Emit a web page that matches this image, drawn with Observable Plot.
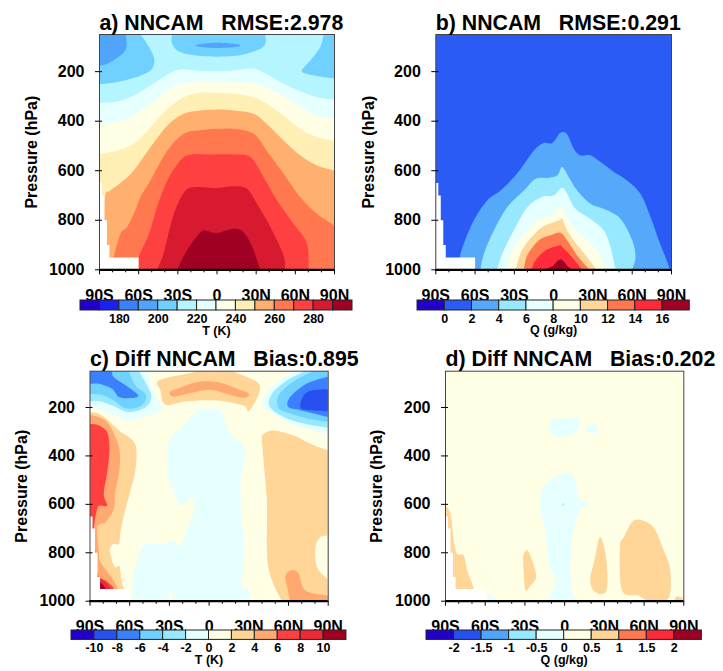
<!DOCTYPE html>
<html><head><meta charset="utf-8">
<script src="https://cdn.jsdelivr.net/npm/d3@7"></script>
<script src="https://cdn.jsdelivr.net/npm/@observablehq/plot@0.6"></script>
<style>
html,body{margin:0;padding:0;background:#fff}
#page{position:relative;width:723px;height:671px;overflow:hidden}
#page svg{position:absolute;overflow:visible;background:transparent}
#page svg text{white-space:pre}
</style></head><body><div id="page"></div>
<script>
// ---------- labels ----------
const latTicks=[-90,-60,-30,0,30,60,90];
const latLabels=["90S","60S","30S","0","30N","60N","90N"];
const latMinor=[-80,-70,-50,-40,-20,-10,10,20,40,50,70,80];
const pressureTicks=[200,400,600,800,1000];
// ---------- colour levels ----------
const tLevels=[170,180,190,200,210,220,230,240,250,260,270,280,290];
const tColors=["#2200cc","#1a20f0","#3a80ff","#50a5fa","#70d0ff","#b4f5ff","#e6ffff","#ffffe6","#ffefb4","#ffb06e","#ff7850","#ff4040","#d71a30","#a00023"];
const qLevels=[0,2,4,6,8,10,12,14,16];
const qColors=["#2200cc","#2a5cf5","#55a8fa","#98e8ff","#e6ffff","#ffffe6","#ffd598","#ff7850","#ff2a3a","#a00023"];
const dtLevels=[-10,-8,-6,-4,-2,0,2,4,6,8,10];
const dtColors=["#2200cc","#2850f0","#3a80ff","#70d0ff","#98e8ff","#e6ffff","#ffffe6","#ffd598","#ffa870","#ff4040","#f02838","#a00023"];
const dqLevels=[-2,-1.5,-1,-0.5,0,0.5,1,1.5,2];
const dqColors=["#2200cc","#2850f0","#50a5fa","#98e8ff","#e6ffff","#ffffe6","#ffd598","#ff7850","#ff2a3a","#a00023"];
// ---------- shared domain outlines [lat, hPa] ----------
const fullDomain=[[-90,50],[90,50],[90,1000],[-90,1000]];
const noData=[[-90,650],[-88.1,650],[-88.1,700],[-86.2,700],[-86.2,800],[-84.3,800],[-84.3,900],[-82.4,900],[-82.4,950],[-60,950],[-60,1000],[-90,1000]];
// ---------- a) temperature contours [lat, hPa] ----------
const t220=[[-90,326],[-76.5,320],[-63.7,296],[-51,256],[-38,211],[-28,191],[-12.7,198],[0,198],[12.7,195],[28,188],[38,209],[51,249],[63.7,279],[76.5,303],[90,312]];
const t230=[[-90,413],[-76.5,404],[-63.7,377],[-51,330],[-38,276],[-28,249],[-12.7,242],[0,242],[12.7,244],[28,246],[38,265],[51,296],[63.7,343],[76.5,377],[90,390]];
const t240=[[-90,534],[-76.5,518],[-63.7,491],[-51,424],[-38,350],[-25.5,303],[-12.7,285],[0,285],[12.7,289],[28,303],[38,330],[51,377],[63.7,431],[76.5,464],[90,480]];
const t250=[[-86.2,1000],[-86.2,720],[-81.6,680],[-74,650],[-63.7,599],[-51,505],[-38,417],[-25.5,370],[-12.7,357],[0,353],[12.7,357],[28,370],[38,410],[51,478],[63.7,538],[76.5,579],[90,599]];
const t260=[[-79,1000],[-79,949],[-74,855],[-69,828],[-63.7,774],[-58.6,706],[-51,639],[-38,518],[-25.5,451],[-12.7,437],[0,431],[12.7,431],[28,451],[38,518],[51,612],[63.7,706],[76.5,774],[90,821]];
const t270=[[-60,1000],[-60,949],[-52,854],[-46,747],[-38,639],[-28,558],[-20.4,535],[-7.6,534],[12.7,534],[25.5,545],[35.7,626],[46,720],[58.6,814],[69,895],[70,1000]];
const t280=[[-46,1000],[-41,935],[-33,774],[-24,680],[-15,666],[0,670],[12.7,663],[23,673],[30.6,733],[41,828],[51,942],[52,1000]];
const t290=[[-30.6,1000],[-23,922],[-12.7,848],[-7.6,844],[0,851],[12.7,834],[20.4,848],[27,908],[33,1000]];
const t210Left=[[-90,50],[-58.6,50],[-52,101],[-48,152],[-51,195],[-63.7,225],[-76.5,242],[-90,252]];
const t210Mid=[[-34.4,50],[-34.4,87],[-28,121],[-12.7,137],[12.7,137],[30.6,114],[37,87],[37,50]];
const t210Right=[[81.6,50],[79,101],[71.4,155],[65,198],[74,215],[90,229],[90,50]];
const t200Left=[[-70,50],[-69.4,101],[-74,135],[-84,168],[-90,175],[-90,50]];
const t200Mid=[[-16.6,94],[-10,86],[0,83],[12.7,87],[18,94],[12.7,101],[0,104],[-10,101]];
// ---------- b) humidity contours ----------
const q2=[[-71.7,1000],[-71.7,951],[-68.6,895],[-61,801],[-50.8,720],[-40.6,680],[-28,612],[-15,518],[-7.5,488],[-1,488],[5,448],[10,451],[15.4,511],[20.5,538],[28,538],[35.8,565],[46,605],[56,639],[66.3,693],[74,787],[80.3,881],[85.4,949],[89,1000]];
const q4=[[-56,1000],[-53.3,935],[-45.7,841],[-35.5,747],[-22.8,680],[-13.9,633],[-5,629],[2.7,619],[6.5,585],[11.6,626],[18,680],[28,733],[38.3,754],[51,794],[60,881],[62.5,949],[60,1000]];
const q6=[[-43,1000],[-39.3,935],[-30.4,840],[-20,747],[-8.8,706],[0,700],[6.5,669],[10.3,693],[16.7,754],[28,794],[38.3,841],[43.4,908],[47.2,1000]];
const q8=[[-35.5,1000],[-31.7,922],[-22.8,855],[-12.6,801],[0,774],[5.2,740],[9,774],[15.4,834],[25.6,881],[34.5,935],[39.6,1000]];
const q10=[[-29,1000],[-25.3,935],[-19,881],[-8.8,828],[4,801],[6.5,794],[10.3,841],[18,901],[25.6,949],[32.7,1000]];
const q12=[[-22.8,1000],[-20.2,942],[-11.3,881],[-2.4,861],[5.2,850],[10.3,881],[18,942],[27.4,1000]];
const q14=[[-17,1000],[-13.9,962],[-6.2,922],[4,902],[6.5,908],[12.9,942],[21.8,1000]];
const q16=[[-7.5,1000],[-1,986],[2.7,965],[6.5,960],[10.3,983],[14,1000]];
// ---------- c) temperature difference contours ----------
const dtM2Left=[[-90,50],[-45.6,50],[-44.3,109],[-36,192],[-36.8,212],[-45.6,233],[-60.7,254],[-70.7,233],[-80.8,212],[-90,203]];
const dtM4Left=[[-90,50],[-53,50],[-46.8,109],[-43.6,157],[-48,199],[-60.7,219],[-72,194],[-82,175],[-90,175]];
const dtM6Left=[[-90,50],[-60.7,50],[-55.6,109],[-47.6,150],[-51.9,195],[-63.2,203],[-72,171],[-80.8,148],[-90,144]];
const dtM8Left=[[-90,50],[-73.3,50],[-72,75],[-62,112],[-53.6,150],[-59.4,161],[-68.2,157],[-73.3,123],[-83.3,102],[-90,102]];
const dtM2Right=[[90,50],[66.5,50],[55,80],[43.8,135],[40,190],[48.8,225],[64,273],[90,309]];
const dtM4Right=[[90,50],[72.8,50],[59,87],[47.6,142],[45.8,197],[56.4,239],[71.5,266],[90,284]];
const dtM6Right=[[90,50],[79,50],[64,91],[52.6,149],[52.6,204],[61.4,225],[74,245],[90,259]];
const dtM8Right=[[90,73],[74,101],[61.4,156],[59.7,197],[69,211],[90,239]];
const dtM10Right=[[90,124],[79,128],[71.5,149],[69,201],[76.5,211],[90,215]];
const dtP2Top=[[-38,88.5],[-16.6,61],[-9,50],[17.4,50],[36.3,95],[37.5,144],[30,215],[26,192],[6,171],[-16.6,174],[-33,188],[-36.8,130]];
const dtP4Top=[[-29.7,137],[-24,123],[-9,95],[6,95],[21,123],[30,144],[26,160],[13.6,144],[1,127],[-11.6,137],[-26.7,155]];
const dtM2Mid=[[4.8,206],[9.8,226],[16,309],[25,350],[27.4,391],[23.7,515],[25,694],[26.7,749],[25,935],[30,949],[30,1000],[-26.7,1000],[-29,942],[-31,1000],[-58,1000],[-57,887],[-50.6,777],[-44.3,763],[-34,763],[-26.7,749],[-21.7,770],[-12.8,653],[-11,598],[-14,573],[-21.7,605],[-26.7,543],[-30.5,488],[-31.7,405],[-29,323],[-19,274],[-9,212],[-1.5,206]];
const dtP2Right=[[41.3,309],[40,336],[42.5,502],[43.8,612],[43.8,818],[47.6,915],[55,1000],[90,1000],[90,378],[76.5,350],[64,316],[48.8,295]];
const dtHoleRight=[[90,729],[84,736],[80.3,777],[81.6,860],[90,912]];
const dtP4Right=[[57.7,894],[62.7,871],[67.7,887],[72.8,956],[90,977],[90,1000],[61.4,1000],[59,942]];
const dtP2Left=[[-90,219],[-81,233],[-68,295],[-56,350],[-55.6,453],[-59.4,543],[-64.4,646],[-67,715],[-68,763],[-72,763],[-75,784],[-73.8,825],[-71,860],[-68,853],[-67,880],[-66,922],[-64.4,949],[-64.4,1000],[-90,1000]];
const dtP4Left=[[-90,230],[-78.3,254],[-70.7,323],[-67.5,385],[-68,467],[-71,550],[-72,619],[-78.3,674],[-82,681],[-84.6,701],[-83.3,798],[-82,839],[-75.8,887],[-69.5,942],[-69.5,1000],[-90,1000]];
const dtP6Left=[[-90,267],[-83.3,274],[-77,302],[-75.3,371],[-77,467],[-79.6,557],[-77,605],[-82,605],[-84.6,619],[-87,701],[-85.9,798],[-83.8,894],[-78.3,915],[-72,949],[-72,1000],[-90,1000]];
const dtP8Left=[[-84,905],[-80,915],[-75,949],[-82,975]];
const dtP10Left=[[-82.6,921],[-78.3,949],[-82,956]];
// ---------- d) humidity difference contours ----------
const dqM0Top=[[-10.7,251],[-3.1,247],[10.7,243],[10.7,281],[6.9,302],[-1.9,323],[-8.2,316],[-10.7,295]];
const dqM0Small=[[15,295],[19.5,263],[23.3,268],[25,302],[22,306],[18.3,302]];
const dqM0Main=[[-0.6,474],[5.7,477],[9.4,529],[10.7,577],[17,591],[17,605],[12,619],[6.4,708],[4.4,887],[6.9,977],[14.5,1000],[-13.2,1000],[-9.4,956],[-6.9,901],[-12,846],[-14.5,708],[-18.3,612],[-17,543],[-9.4,495]];
const dqM05Dot=[[-1.8,600],[-1.1,594],[-0.3,600],[-1.1,606]];
const dqM0Low=[[-59,1000],[-57.3,972],[-53.5,977],[-51,1000]];
const dqP1=[[-90,605],[-86.2,639],[-83.7,749],[-81.2,804],[-76.2,811],[-73.6,873],[-68.6,949],[-68.6,1000],[-90,1000]];
const dqP2=[[-31.3,818],[-29.6,794],[-27,798],[-21.5,894],[-25.8,935],[-29.6,956],[-30.8,887]];
const dqP3=[[25.8,743],[28.3,747],[31.6,832],[32,949],[27,970],[20.8,949],[19.5,901],[22.5,832]];
const dqP4=[[44.7,736],[52.2,667],[62.3,674],[68.6,708],[74.9,791],[79.4,860],[80,956],[76.2,997],[62.3,1000],[56,977],[43.4,956],[41.7,777]];
const dqP5=[[82.4,1000],[84.9,980],[88.7,986],[90,1000]];

const below=pts=>[...pts,[pts[pts.length-1][0],1000],[pts[0][0],1000]];
const page=document.getElementById("page");
const font="'Liberation Sans',Arial,sans-serif";
const place=(svg,left,top)=>{svg.style.left=left+"px";svg.style.top=top+"px";page.appendChild(svg);};

// Closed curve: smooth (Catmull-Rom) through the contour, straight along the plot frame.
function contourCurve(x0,x1,y0,y1){
  const onEdge=([x,y])=>Math.abs(x-x0)<.6||Math.abs(x-x1)<.6||Math.abs(y-y0)<.6||Math.abs(y-y1)<.6;
  return ctx=>{
    let pts=[];
    return {
      areaStart(){},areaEnd(){},
      lineStart(){pts=[];},
      point(x,y){pts.push([+x,+y]);},
      lineEnd(){
        const n=pts.length; if(n<3) return;
        const s=pts.findIndex(onEdge);
        if(s<0){
          ctx.moveTo(...pts[0]);
          for(let i=0;i<n;i++){
            const a=pts[(i-1+n)%n],b=pts[i],c=pts[(i+1)%n],d=pts[(i+2)%n];
            ctx.bezierCurveTo(b[0]+(c[0]-a[0])/6,b[1]+(c[1]-a[1])/6,c[0]-(d[0]-b[0])/6,c[1]-(d[1]-b[1])/6,c[0],c[1]);
          }
          ctx.closePath();return;
        }
        const r=[...pts.slice(s),...pts.slice(0,s),pts[s]];
        ctx.moveTo(...r[0]);
        for(let i=0;i<r.length-1;i++){
          const b=r[i],c=r[i+1];
          if(onEdge(b)&&onEdge(c)){ctx.lineTo(c[0],c[1]);continue;}
          const a=onEdge(b)?b:r[i-1],d=onEdge(c)?c:r[i+2];
          ctx.bezierCurveTo(b[0]+(c[0]-a[0])/6,b[1]+(c[1]-a[1])/6,c[0]-(d[0]-b[0])/6,c[1]-(d[1]-b[1])/6,c[0],c[1]);
        }
        ctx.closePath();
      }
    };
  };
}

function panel({left,top,width,height,ml,mr,mt,mb,title,levels,colors,shapes,yLabelOffset}){
  const curve=contourCurve(ml,width-mr,mt,height-mb);
  const poly=(pts,v)=>Plot.line(pts,{x:d=>d[0],y:d=>d[1],fill:()=>v,stroke:"none",curve,clip:true});
  const svg=Plot.plot({
    width,height,marginLeft:ml,marginRight:mr,marginTop:mt,marginBottom:mb,
    style:{fontFamily:font,color:"#000",background:"transparent",overflow:"visible"},
    x:{domain:[-90,90],axis:null},
    y:{domain:[1000,50],axis:null},
    color:{type:"threshold",domain:levels,range:colors},
    marks:[
      ...shapes.map(([v,pts])=>poly(pts,v)),
      Plot.line(noData,{x:d=>d[0],y:d=>d[1],fill:"#fff",stroke:"none",curve:"linear-closed"}),
      Plot.frame({stroke:"#444",strokeWidth:1}),
      Plot.ruleY([1000],{stroke:"#000",strokeWidth:2.2}),
      Plot.axisX({anchor:"bottom",ticks:latMinor,tickSize:3,fill:"none",label:null,strokeWidth:1}),
      Plot.axisX({anchor:"bottom",ticks:latTicks,tickSize:5,tickPadding:14.5,tickFormat:d=>latLabels[latTicks.indexOf(d)],label:null,fontSize:16,fontWeight:"bold",strokeWidth:1}),
      Plot.axisY({anchor:"left",ticks:pressureTicks,tickSize:-3,fill:"none",label:null,strokeWidth:1}),
      Plot.axisY({anchor:"left",ticks:pressureTicks,tickSize:4,tickPadding:11,tickFormat:d=>String(d),label:"Pressure (hPa)",labelAnchor:"center",labelArrow:"none",labelOffset:yLabelOffset,fontSize:16,fontWeight:"bold",strokeWidth:1}),
      Plot.text([title],{frameAnchor:"top-left",textAnchor:"start",lineAnchor:"bottom",dy:-5,fontSize:21.3,fontWeight:"bold"})
    ]});
  place(svg,left,top);
}
function colorbar({left,top,barWidth,barHeight,domain,levels,colors,ticks,label}){
  const edges=[domain[0],...levels,domain[1]];
  const boxes=colors.map((c,i)=>({x1:edges[i],x2:edges[i+1],v:(edges[i]+edges[i+1])/2}));
  const svg=Plot.plot({
    width:barWidth+40,height:40+barHeight,marginLeft:20,marginRight:20,marginTop:1,marginBottom:39,
    style:{fontFamily:font,color:"#000",background:"transparent",overflow:"visible"},
    x:{domain,axis:null},
    y:{axis:null},
    color:{type:"threshold",domain:levels,range:colors},
    marks:[
      Plot.rect(boxes,{x1:"x1",x2:"x2",fill:"v",stroke:"#222",strokeWidth:1}),
      Plot.axisX({anchor:"bottom",ticks,tickSize:0,tickPadding:3.5,tickFormat:d=>String(d),fontSize:12.5,fontWeight:"bold",label,labelAnchor:"center",labelArrow:"none",labelOffset:24})
    ]});
  place(svg,left,top);
}

panel({left:0,top:0,width:360,height:340,ml:99,mr:26,mt:34,mb:70.7,title:"a) NNCAM   RMSE:2.978",levels:tLevels,colors:tColors,yLabelOffset:74,
  shapes:[[215,fullDomain],[205,t210Left],[205,t210Mid],[205,t210Right],[195,t200Left],[195,t200Mid],
    [225,below(t220)],[235,below(t230)],[245,below(t240)],[255,below(t250)],[265,below(t260)],[275,t270],[285,t280],[295,t290]]});
panel({left:360,top:0,width:363,height:340,ml:75.3,mr:52,mt:34,mb:70.7,title:"b) NNCAM   RMSE:0.291",levels:qLevels,colors:qColors,yLabelOffset:73,
  shapes:[[1,fullDomain],[3,q2],[5,q4],[7,q6],[9,q8],[11,q10],[13,q12],[15,q14],[17,q16]]});
panel({left:0,top:340,width:360,height:331,ml:89.5,mr:32.3,mt:30.7,mb:70.3,title:"c) Diff NNCAM   Bias:0.895",levels:dtLevels,colors:dtColors,yLabelOffset:74,
  shapes:[[1,fullDomain],[-1,dtM2Left],[-3,dtM4Left],[-5,dtM6Left],[-7,dtM8Left],[-1,dtM2Right],[-3,dtM4Right],[-5,dtM6Right],[-7,dtM8Right],[-9,dtM10Right],
    [3,dtP2Top],[5,dtP4Top],[-1,dtM2Mid],[3,dtP2Right],[1,dtHoleRight],[5,dtP4Right],[3,dtP2Left],[5,dtP4Left],[7,dtP6Left],[9,dtP8Left],[11,dtP10Left]]});
panel({left:360,top:340,width:363,height:331,ml:85,mr:39.7,mt:30.7,mb:70.3,title:"d) Diff NNCAM   Bias:0.202",levels:dqLevels,colors:dqColors,yLabelOffset:75,
  shapes:[[0.25,fullDomain],[-0.25,dqM0Top],[-0.25,dqM0Small],[-0.25,dqM0Main],[-0.75,dqM05Dot],[-0.25,dqM0Low],[0.75,dqP1],[0.75,dqP2],[0.75,dqP3],[0.75,dqP4],[0.75,dqP5]]});

colorbar({left:60,top:299,barWidth:272,barHeight:10,domain:[160,300],levels:tLevels,colors:tColors,ticks:[180,200,220,240,260,280],label:"T (K)"});
colorbar({left:397,top:299,barWidth:272.3,barHeight:10,domain:[-2,18],levels:qLevels,colors:qColors,ticks:qLevels,label:"Q (g/kg)"});
colorbar({left:51,top:629.3,barWidth:275,barHeight:9.4,domain:[-12,12],levels:dtLevels,colors:dtColors,ticks:dtLevels,label:"T (K)"});
colorbar({left:406.3,top:629.3,barWidth:275.4,barHeight:9.4,domain:[-2.5,2.5],levels:dqLevels,colors:dqColors,ticks:dqLevels,label:"Q (g/kg)"});
</script></body></html>
